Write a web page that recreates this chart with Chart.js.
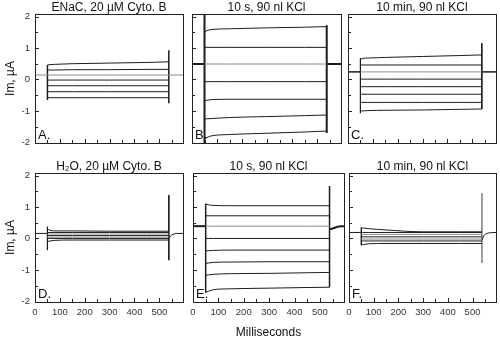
<!DOCTYPE html>
<html>
<head>
<meta charset="utf-8">
<script src="https://cdn.jsdelivr.net/npm/chart.js@4.4.1/dist/chart.umd.min.js"></script>
<style>
html,body{margin:0;padding:0;background:#fff;overflow:hidden;}
#wrap{position:relative;width:500px;height:340px;background:#fff;}
#wrap canvas{position:absolute;left:0;top:0;}
</style>
</head>
<body>
<div id="wrap">
<canvas id="pA" width="500" height="340"></canvas>
<canvas id="pB" width="500" height="340"></canvas>
<canvas id="pC" width="500" height="340"></canvas>
<canvas id="pD" width="500" height="340"></canvas>
<canvas id="pE" width="500" height="340"></canvas>
<canvas id="pF" width="500" height="340"></canvas>
</div>
<script>
// ---------------- data ----------------
const xTickValues = [0, 50, 100, 150, 200, 250, 300, 350, 400, 450, 500, 550];
const xTickLabels = ['0', '', '100', '', '200', '', '300', '', '400', '', '500', ''];
const yTickValues = [-2, -1.5, -1, -0.5, 0, 0.5, 1, 1.5, 2];
const yTickLabels = ['-2', '', '-1', '', '0', '', '1', '', '2'];
const panelTitles = ['ENaC, 20 µM Cyto. B', '10 s, 90 nl KCl', '10 min, 90 nl KCl',
                     'H₂O, 20 µM Cyto. B', '10 s, 90 nl KCl', '10 min, 90 nl KCl'];
const panelLetters = ['A.', 'B.', 'C.', 'D.', 'E.', 'F.'];
const xAxisTitle = 'Milliseconds';
const yAxisTitle = 'Im, µA';

const pulseStartMs = 50;
const pulseEndMs = 538;
const traceTimesMs = [50, 60, 80, 150, 300, 450, 538];
const tailTimesMs = [538, 545, 555, 570, 595];

// Panel A
const holdA = 0.14;
const tracesA = [
  [0.46, 0.47, 0.48, 0.50, 0.52, 0.54, 0.56],
  [0.30, 0.30, 0.30, 0.31, 0.31, 0.32, 0.32],
  [0.14, 0.14, 0.14, 0.14, 0.14, 0.14, 0.14],
  [-0.02, -0.02, -0.02, -0.02, -0.02, -0.02, -0.02],
  [-0.20, -0.20, -0.20, -0.20, -0.20, -0.20, -0.20],
  [-0.39, -0.39, -0.39, -0.39, -0.39, -0.39, -0.39],
  [-0.58, -0.58, -0.58, -0.58, -0.58, -0.58, -0.58]
];
const startSpikeA = [0.46, -0.65];
const endSpikeA = [0.93, -0.76];
const tailA = [0.14, 0.14, 0.14, 0.14, 0.14];

// Panel B
const holdB = 0.49;
const tracesB = [
  [1.52, 1.55, 1.59, 1.61, 1.64, 1.66, 1.68],
  [1.02, 1.02, 1.02, 1.02, 1.02, 1.02, 1.02],
  [0.49, 0.49, 0.49, 0.49, 0.49, 0.49, 0.49],
  [-0.07, -0.07, -0.07, -0.07, -0.07, -0.07, -0.07],
  [-0.68, -0.66, -0.64, -0.63, -0.63, -0.63, -0.63],
  [-1.26, -1.25, -1.24, -1.21, -1.18, -1.15, -1.13],
  [-1.87, -1.84, -1.79, -1.75, -1.71, -1.67, -1.64]
];
const startSpikeB = [2.3, -2.3];
const endSpikeB = [1.72, -1.70];
const tailB = [0.49, 0.49, 0.49, 0.49, 0.49];

// Panel C
const holdC = 0.24;
const tracesC = [
  [0.64, 0.67, 0.68, 0.70, 0.73, 0.76, 0.78],
  [0.46, 0.46, 0.46, 0.46, 0.46, 0.46, 0.46],
  [0.24, 0.24, 0.24, 0.24, 0.24, 0.24, 0.24],
  [0.01, 0.01, 0.01, 0.01, 0.01, 0.01, 0.01],
  [-0.23, -0.23, -0.23, -0.23, -0.23, -0.23, -0.23],
  [-0.47, -0.47, -0.47, -0.47, -0.47, -0.47, -0.47],
  [-0.73, -0.73, -0.73, -0.73, -0.73, -0.73, -0.73],
  [-1.00, -1.00, -0.99, -0.98, -0.97, -0.95, -0.94]
];
const startSpikeC = [0.67, -1.07];
const endSpikeC = [1.15, -0.94];
const tailC = [0.24, 0.24, 0.24, 0.24, 0.24];

// Panel D
const holdD = 0.16;
const tracesD = [
  [0.30, 0.26, 0.24, 0.24, 0.23, 0.23, 0.23],
  [0.19, 0.19, 0.19, 0.19, 0.19, 0.19, 0.19],
  [0.14, 0.14, 0.14, 0.14, 0.14, 0.14, 0.14],
  [0.09, 0.09, 0.09, 0.09, 0.09, 0.09, 0.09],
  [0.04, 0.04, 0.04, 0.04, 0.04, 0.04, 0.04],
  [0.00, 0.00, 0.00, 0.00, 0.00, 0.00, 0.00],
  [-0.10, -0.08, -0.06, -0.05, -0.05, -0.05, -0.05]
];
const startSpikeD = [0.37, -0.37];
const endSpikeD = [1.38, -0.69];
const tailD = [-0.02, 0.08, 0.13, 0.16, 0.16];

// Panel E
const holdE = 0.39;
const tracesE = [
  [1.10, 1.07, 1.05, 1.04, 1.04, 1.04, 1.04],
  [0.72, 0.72, 0.72, 0.72, 0.72, 0.72, 0.72],
  [0.39, 0.39, 0.39, 0.39, 0.39, 0.39, 0.39],
  [0.00, 0.00, 0.00, 0.00, 0.00, 0.00, 0.00],
  [-0.40, -0.39, -0.38, -0.37, -0.37, -0.37, -0.37],
  [-0.80, -0.78, -0.76, -0.75, -0.74, -0.74, -0.74],
  [-1.17, -1.16, -1.14, -1.12, -1.11, -1.09, -1.08],
  [-1.72, -1.68, -1.63, -1.60, -1.58, -1.56, -1.55]
];
const startSpikeE = [1.10, -1.72];
const endSpikeE = [1.67, -1.55];
const tailE = [0.30, 0.30, 0.33, 0.37, 0.39];

// Panel F
const holdF = 0.19;
const tracesF = [
  [0.34, 0.33, 0.31, 0.27, 0.21, 0.21, 0.21],
  [0.19, 0.19, 0.19, 0.19, 0.19, 0.19, 0.19],
  [0.13, 0.13, 0.13, 0.13, 0.13, 0.13, 0.13],
  [0.05, 0.05, 0.05, 0.05, 0.05, 0.05, 0.05],
  [-0.02, -0.02, -0.02, -0.02, -0.02, -0.02, -0.02],
  [-0.08, -0.08, -0.08, -0.08, -0.08, -0.08, -0.08],
  [-0.21, -0.19, -0.17, -0.16, -0.16, -0.16, -0.16]
];
const startSpikeF = [0.34, -0.21];
const endSpikeF = [1.44, -0.78];
const tailF = [-0.06, 0.08, 0.15, 0.18, 0.19];

// ---------------- drawing ----------------
const FONT = '"Liberation Sans", Arial, Helvetica, sans-serif';
const X_MAX = 595, Y_MIN = -2.02, Y_MAX = 2.08;
const INK = '#1c1c1c', GRAY = '#8c8c8c';

function pts(times, vals) { return times.map((t, i) => ({x: t, y: vals[i]})); }
function seg(data, color, width, smooth) {
  return {data, borderColor: color, borderWidth: width, showLine: true, pointRadius: 0,
          fill: false, tension: 0, cubicInterpolationMode: smooth ? 'monotone' : 'default'};
}

const panelDecor = {
  id: 'panelDecor',
  afterDraw(chart, args, opts) {
    const {ctx, chartArea: a} = chart;
    const xs = chart.scales.x, ys = chart.scales.y;
    ctx.save();
    ctx.strokeStyle = '#222';
    ctx.lineWidth = 1;
    ctx.strokeRect(Math.round(a.left) + 0.5, Math.round(a.top) + 0.5,
                   Math.round(a.right - a.left), Math.round(a.bottom - a.top));
    ctx.beginPath();
    xs.ticks.forEach(t => {
      if (t.value <= 0) return;
      const px = Math.round(xs.getPixelForValue(t.value)) + 0.5;
      const len = t.value % 100 === 0 ? 4 : 3;
      ctx.moveTo(px, a.bottom); ctx.lineTo(px, a.bottom - len);
    });
    ys.ticks.forEach(t => {
      const py = Math.round(ys.getPixelForValue(t.value)) + 0.5;
      if (py > a.bottom - 1 || py < a.top + 1) return;
      const len = Number.isInteger(t.value) ? 4 : 3;
      ctx.moveTo(a.left, py); ctx.lineTo(a.left + len, py);
    });
    ctx.stroke();
    ctx.fillStyle = '#111';
    ctx.font = '13px ' + FONT;
    ctx.textBaseline = 'alphabetic';
    ctx.textAlign = 'left';
    ctx.fillText(opts.letter, a.left + 3, a.bottom - 4);
    ctx.restore();
  }
};

function makePanel(id, idx, box, p) {
  const leftCol = (idx % 3) === 0;
  const bottomRow = idx >= 3;
  const yW = leftCol ? 32 : 0;
  const xH = bottomRow ? 38 : 0;
  const ds = [];
  p.traces.forEach((vals, i) => ds.push(seg(pts(traceTimesMs, vals), p.gray.includes(i) ? GRAY : INK, 1, true)));
  ds.push(seg(pts([0, pulseStartMs], [p.hold, p.hold]), p.holdColor, p.holdWidth, false));
  ds.push(seg(pts(tailTimesMs, p.tail), p.holdColor, p.holdWidth, true));
  ds.push(seg(pts([pulseStartMs, pulseStartMs], p.startSpike), INK, p.spikeWidth, false));
  ds.push(seg(pts([pulseEndMs, pulseEndMs], p.endSpike), p.endColor || INK, p.spikeWidth, false));

  new Chart(document.getElementById(id), {
    type: 'scatter',
    data: {datasets: ds},
    plugins: [panelDecor],
    options: {
      responsive: false, animation: false, events: [],
      devicePixelRatio: 1,
      layout: {padding: {left: box.L - yW, right: 500 - box.R, top: box.T - 14, bottom: 340 - box.B - xH}},
      plugins: {
        legend: {display: false},
        tooltip: {enabled: false},
        title: {display: true, text: panelTitles[idx], fullSize: false, color: '#111',
                font: {family: FONT, size: 12, weight: 'normal', lineHeight: 1},
                padding: {top: 2, bottom: 0}},
        panelDecor: {letter: panelLetters[idx]}
      },
      scales: {
        x: {
          type: 'linear', min: 0, max: X_MAX,
          afterBuildTicks: s => { s.ticks = xTickValues.map(v => ({value: v})); },
          afterFit: s => { s.height = xH; },
          grid: {display: false, drawTicks: false}, border: {display: false},
          ticks: {display: bottomRow, autoSkip: false, maxRotation: 0, padding: 5, color: '#333',
                  font: {family: FONT, size: 9.5},
                  callback: (v, i) => xTickLabels[i]},
          title: {display: idx === 4, text: xAxisTitle, color: '#111',
                  font: {family: FONT, size: 12}, padding: {top: 0, bottom: 0}}
        },
        y: {
          type: 'linear', min: Y_MIN, max: Y_MAX,
          afterBuildTicks: s => { s.ticks = yTickValues.map(v => ({value: v})); },
          afterFit: s => { s.width = yW; },
          grid: {display: false, drawTicks: false}, border: {display: false},
          ticks: {display: leftCol, autoSkip: false, padding: 5, color: '#333',
                  font: {family: FONT, size: 9.5},
                  callback: (v, i) => yTickLabels[i]},
          title: {display: leftCol, text: yAxisTitle, color: '#111',
                  font: {family: FONT, size: 12}, padding: {top: 0, bottom: 0}}
        }
      }
    }
  });
}

makePanel('pA', 0, {L: 35, R: 183, T: 14, B: 143},
  {hold: holdA, traces: tracesA, startSpike: startSpikeA, endSpike: endSpikeA, tail: tailA,
   gray: [2], holdColor: GRAY, holdWidth: 1, spikeWidth: 1.5});
makePanel('pB', 1, {L: 192, R: 341, T: 14, B: 143},
  {hold: holdB, traces: tracesB, startSpike: startSpikeB, endSpike: endSpikeB, tail: tailB,
   gray: [2], holdColor: INK, holdWidth: 2, spikeWidth: 2});
makePanel('pC', 2, {L: 348, R: 496, T: 14, B: 143},
  {hold: holdC, traces: tracesC, startSpike: startSpikeC, endSpike: endSpikeC, tail: tailC,
   gray: [2], holdColor: INK, holdWidth: 1.5, spikeWidth: 1});
makePanel('pD', 3, {L: 35, R: 183, T: 173, B: 302},
  {hold: holdD, traces: tracesD, startSpike: startSpikeD, endSpike: endSpikeD, tail: tailD,
   gray: [2, 4], holdColor: INK, holdWidth: 1, spikeWidth: 1});
makePanel('pE', 4, {L: 193, R: 344, T: 173, B: 302},
  {hold: holdE, traces: tracesE, startSpike: startSpikeE, endSpike: endSpikeE, tail: tailE,
   gray: [2], holdColor: INK, holdWidth: 2, spikeWidth: 1.5});
makePanel('pF', 5, {L: 349, R: 496, T: 173, B: 302},
  {hold: holdF, traces: tracesF, startSpike: startSpikeF, endSpike: endSpikeF, tail: tailF,
   gray: [2, 4], holdColor: INK, holdWidth: 1, spikeWidth: 1, endColor: GRAY});
</script>
</body>
</html>
